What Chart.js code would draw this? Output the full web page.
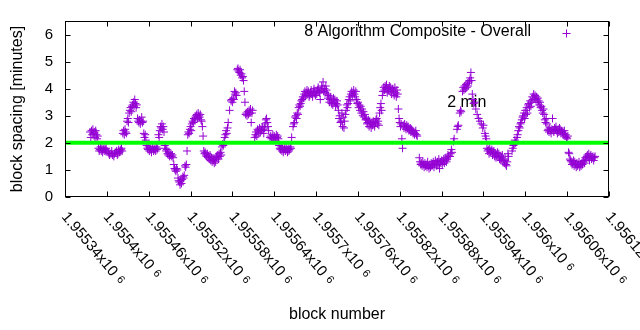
<!DOCTYPE html>
<html>
<head>
<meta charset="utf-8">
<script src="https://cdn.jsdelivr.net/npm/chart.js@4"></script>
<style>
  html, body { margin: 0; padding: 0; background: #fff; }
  canvas { display: block; }
</style>
</head>
<body>
<canvas id="chart" width="640" height="330"></canvas>
<script>
// Block heights of the sample
const blocks = [
  1955376, 1955377, 1955378, 1955379, 1955380, 1955381, 1955382, 1955383, 1955384, 1955385, 1955386, 1955387,
  1955388, 1955389, 1955390, 1955391, 1955392, 1955393, 1955394, 1955395, 1955396, 1955397,
  1955398, 1955399, 1955400, 1955402, 1955403, 1955404, 1955406, 1955407, 1955408, 1955410, 1955411, 1955412,
  1955414, 1955415, 1955416, 1955417, 1955418, 1955419, 1955420, 1955421, 1955422,
  1955423, 1955424, 1955425, 1955426, 1955427, 1955428, 1955429, 1955430, 1955431,
  1955432, 1955433, 1955434, 1955435, 1955436, 1955437, 1955438, 1955439, 1955440, 1955441, 1955442, 1955443,
  1955444, 1955445, 1955446, 1955447, 1955448, 1955449, 1955450, 1955451, 1955452,
  1955453, 1955454, 1955455, 1955456,
  1955457, 1955458, 1955459, 1955460, 1955461, 1955462, 1955463, 1955464, 1955465, 1955466, 1955467, 1955468,
  1955469, 1955470, 1955471, 1955472, 1955473,
  1955474, 1955475, 1955476, 1955477, 1955478, 1955479, 1955480, 1955481, 1955482,
  1955483, 1955484, 1955485, 1955486, 1955487, 1955488, 1955489, 1955490, 1955491,
  1955492, 1955493, 1955494, 1955495, 1955496, 1955497, 1955498, 1955499, 1955500, 1955501, 1955502, 1955503,
  1955504, 1955505, 1955506, 1955507, 1955508, 1955509, 1955510, 1955511, 1955512, 1955513, 1955514, 1955515,
  1955516, 1955517, 1955518, 1955519, 1955520, 1955521, 1955522, 1955523, 1955524, 1955525, 1955526, 1955527,
  1955528, 1955529, 1955530, 1955531, 1955532, 1955533, 1955534, 1955535, 1955536, 1955537, 1955538,
  1955539, 1955540, 1955541, 1955542, 1955543, 1955544, 1955545, 1955546, 1955547, 1955548, 1955549, 1955550,
  1955551, 1955552, 1955553, 1955554, 1955555, 1955556, 1955557, 1955558, 1955559, 1955560, 1955561, 1955562,
  1955563, 1955564,
  1955565, 1955566, 1955567, 1955568, 1955569, 1955570, 1955571, 1955572, 1955573, 1955574, 1955576, 1955578,
  1955579, 1955580, 1955581, 1955582, 1955583, 1955584, 1955585, 1955586, 1955587, 1955588, 1955589, 1955590,
  1955591, 1955592, 1955593, 1955594, 1955595, 1955596, 1955597, 1955598, 1955599, 1955600, 1955601, 1955602,
  1955603, 1955604, 1955605, 1955606, 1955607, 1955608, 1955609,
  1955612, 1955613, 1955614, 1955615, 1955616, 1955617, 1955618, 1955619, 1955620, 1955621, 1955622, 1955623,
  1955624, 1955625, 1955626, 1955627, 1955628, 1955629, 1955630, 1955631, 1955632,
  1955634, 1955635, 1955636, 1955637, 1955638, 1955639, 1955640, 1955641, 1955642, 1955643, 1955644, 1955645, 1955646,
  1955647, 1955648, 1955649, 1955650, 1955651, 1955652, 1955653, 1955654, 1955655, 1955656, 1955657, 1955658,
  1955659, 1955660, 1955661, 1955662, 1955663, 1955664, 1955665,
  1955667, 1955668, 1955669, 1955670, 1955671, 1955672, 1955673, 1955674, 1955675, 1955676, 1955677, 1955678,
  1955679, 1955680, 1955681, 1955682, 1955683, 1955684, 1955685, 1955686, 1955687, 1955688, 1955689, 1955690,
  1955691, 1955692, 1955693, 1955694, 1955695, 1955696, 1955697, 1955698, 1955699, 1955700, 1955701, 1955702,
  1955703, 1955704, 1955705, 1955706, 1955707, 1955708, 1955709, 1955710, 1955711, 1955712, 1955713, 1955714,
  1955715, 1955716,
  1955717, 1955718, 1955719, 1955720, 1955721, 1955722, 1955723, 1955724, 1955725, 1955726, 1955727, 1955728,
  1955729, 1955730, 1955731,
  1955732, 1955733, 1955734, 1955735, 1955736, 1955737, 1955738, 1955739, 1955740, 1955741,
  1955742, 1955743, 1955744, 1955745, 1955746, 1955747, 1955748, 1955749, 1955750, 1955751, 1955752, 1955753,
  1955754, 1955755, 1955756, 1955757,
  1955758, 1955759, 1955760, 1955761, 1955762, 1955763, 1955764, 1955765, 1955766, 1955767, 1955768, 1955769,
  1955770, 1955771,
  1955772, 1955773, 1955774, 1955775, 1955776, 1955777, 1955778, 1955779, 1955780, 1955781, 1955782, 1955783,
  1955784, 1955785, 1955786, 1955787, 1955788, 1955789, 1955790,
  1955791, 1955792, 1955793, 1955794,
  1955795, 1955796, 1955797, 1955798, 1955799, 1955800, 1955801, 1955802, 1955803, 1955804, 1955805, 1955806,
  1955807, 1955808, 1955809, 1955810, 1955811, 1955812, 1955813, 1955814, 1955815, 1955816, 1955817,
  1955818, 1955819,
  1955820, 1955821, 1955822, 1955823, 1955824, 1955825, 1955826, 1955827, 1955828, 1955829, 1955830, 1955831,
  1955832, 1955833, 1955834, 1955835, 1955836, 1955837, 1955838, 1955839, 1955840, 1955841, 1955842, 1955843,
  1955844, 1955845,
  1955848, 1955849, 1955850, 1955851, 1955852, 1955853, 1955854, 1955855, 1955856, 1955857, 1955858, 1955859,
  1955860, 1955861, 1955862, 1955863, 1955864, 1955865, 1955866, 1955867, 1955868, 1955869, 1955870, 1955871,
  1955872, 1955873, 1955874, 1955875, 1955876, 1955877, 1955878, 1955879, 1955880, 1955881, 1955882, 1955883,
  1955884, 1955885, 1955886, 1955887, 1955888, 1955889, 1955890,
  1955892, 1955893, 1955894, 1955895, 1955897, 1955898, 1955902, 1955903, 1955904, 1955906, 1955907, 1955908,
  1955910, 1955911, 1955912, 1955913, 1955914, 1955915, 1955916, 1955917, 1955918, 1955919, 1955920, 1955921,
  1955922, 1955923, 1955924, 1955925, 1955926, 1955927, 1955929, 1955931, 1955933, 1955935, 1955937, 1955939,
  1955940, 1955942, 1955943, 1955944,
  1955945, 1955946, 1955947, 1955948, 1955949, 1955950, 1955951, 1955952, 1955953, 1955954, 1955955, 1955956,
  1955957, 1955958, 1955959, 1955960, 1955961, 1955962, 1955963, 1955964, 1955965, 1955966, 1955967, 1955968,
  1955969, 1955970, 1955971, 1955972, 1955973, 1955974, 1955975, 1955976,
  1955981, 1955982, 1955983, 1955984, 1955985, 1955986, 1955987, 1955988, 1955989, 1955990, 1955991, 1955992,
  1955993, 1955994, 1955995, 1955996, 1955997, 1955998, 1955999, 1956000, 1956001, 1956002, 1956003, 1956004,
  1956005, 1956006, 1956007, 1956008, 1956009, 1956010, 1956011, 1956012, 1956013,
  1956014, 1956015, 1956016, 1956017, 1956018, 1956019, 1956020, 1956021, 1956022, 1956023, 1956024, 1956025,
  1956026, 1956027, 1956028, 1956029, 1956030, 1956031, 1956032, 1956033, 1956034, 1956035, 1956036, 1956037,
  1956038, 1956039, 1956040, 1956041, 1956042, 1956043, 1956044, 1956045, 1956046, 1956047, 1956048, 1956049,
  1956050, 1956051, 1956052, 1956053, 1956054, 1956055, 1956056, 1956057, 1956058, 1956059, 1956060, 1956061,
  1956062, 1956063, 1956064, 1956065, 1956066, 1956067, 1956068, 1956069, 1956070, 1956071, 1956072, 1956073,
  1956074, 1956075, 1956076, 1956077, 1956078, 1956079, 1956080, 1956081, 1956082, 1956083, 1956084, 1956085,
  1956086, 1956087, 1956088, 1956089, 1956090, 1956091, 1956092, 1956093, 1956094, 1956095, 1956096, 1956097,
  1956098, 1956099, 1956100
];

// Spacing before each block, in minutes
const spacing = [
  2.4, 2.2, 2.45, 2.3, 2.5, 2.35, 2.4, 2.2, 2.45, 2.3, 2.15, 2.25,
  1.8, 1.7, 1.75, 1.85, 1.7, 1.8, 1.65, 1.75, 1.8, 1.7,
  1.75, 1.8, 1.7, 1.65, 1.6, 1.55, 1.6, 1.7, 1.55, 1.5, 1.6, 1.65,
  1.7, 1.55, 1.6, 1.75, 1.65, 1.7, 1.75, 1.8, 1.7,
  2.35, 2.45, 2.3, 2.5, 2.4, 2.35, 2.8, 2.9, 2.75,
  3.1, 3.2, 3.3, 3.15, 3.35, 3.4, 3.5, 3.35, 3.6, 3.45, 3.3, 3.4,
  2.9, 2.8, 2.75, 2.85, 2.7, 2.8, 2.95, 2.75, 2.8,
  2.35, 2.2, 2.3, 2.1,
  1.9, 1.8, 1.75, 1.85, 1.7, 1.8, 1.75, 1.65, 1.8, 1.85, 1.7, 1.75,
  1.8, 1.7, 1.85, 1.75, 1.8,
  2.3, 2.2, 2.45, 2.6, 2.55, 2.7, 2.5, 2.6, 2.4,
  1.9, 1.8, 1.7, 1.75, 1.6, 1.55, 1.65, 1.5, 1.55,
  1.6, 1.5, 1.55, 1.45, 1.2, 1.05, 1.0, 0.95, 1.05, 1.0, 0.7, 0.6,
  0.55, 0.45, 0.6, 0.5, 0.65, 0.75, 0.7, 0.8, 1.15, 1.1, 1.2, 1.7,
  2.3, 2.4, 2.35, 2.5, 2.6, 2.45, 2.7, 2.8, 2.75, 2.9, 2.85, 2.95,
  3.0, 3.05, 2.9, 3.1, 3.0, 2.95, 3.05, 2.85, 2.8, 2.6, 2.25,
  1.7, 1.6, 1.65, 1.55, 1.5, 1.6, 1.45, 1.5, 1.4, 1.55, 1.35, 1.45,
  1.3, 1.4, 1.35, 1.25, 1.4, 1.3, 1.5, 1.45, 1.55, 1.4, 1.6, 1.5,
  1.65, 1.55,
  1.85, 1.95, 1.9, 2.05, 2.2, 2.3, 2.45, 2.35, 2.55, 2.75, 3.2, 3.55,
  3.6, 3.5, 3.65, 3.6, 3.9, 3.8, 3.85, 3.75, 4.7, 4.75, 4.65, 4.6,
  4.7, 4.5, 4.55, 4.4, 4.45, 4.3, 3.9, 3.5, 3.05, 3.1, 3.0, 3.15,
  3.05, 3.2, 3.1, 3.25, 2.75, 3.1, 3.2,
  2.2, 2.3, 2.4, 2.25, 2.5, 2.45, 2.35, 2.55, 2.4, 2.5, 2.45, 2.6,
  2.5, 2.35, 2.55, 2.7, 2.85, 2.9, 2.75, 2.6, 2.45,
  2.2, 2.25, 2.15, 2.2, 2.3, 2.15, 2.25, 2.2, 2.1, 2.3, 2.2, 2.25, 2.15,
  1.9, 1.8, 1.75, 1.85, 1.7, 1.8, 1.65, 1.75, 1.8, 1.7, 1.85, 1.75,
  1.65, 1.8, 1.7, 1.75, 1.85, 1.8, 2.2,
  2.6, 2.7, 2.75, 2.95, 3.0, 2.9, 3.1, 3.05, 3.3, 3.4, 3.35, 3.45,
  3.55, 3.6, 3.7, 3.65, 3.8, 3.9, 3.75, 3.85, 3.95, 3.8, 3.9, 3.7,
  3.75, 3.85, 3.95, 3.8, 3.7, 3.9, 4.0, 3.85, 3.75, 3.9, 3.8, 3.95,
  4.05, 3.9, 3.85, 3.6, 3.95, 4.1, 4.0, 4.25, 3.9, 4.0, 3.85, 4.1,
  3.95, 3.8,
  3.65, 3.75, 3.5, 3.6, 3.7, 3.45, 3.55, 3.4, 3.65, 3.5, 3.6, 3.35,
  3.45, 3.55, 3.4,
  3.2, 2.9, 3.0, 2.75, 2.8, 3.1, 2.6, 2.95, 2.55, 2.8,
  3.05, 3.2, 3.4, 3.3, 3.45, 3.6, 3.7, 3.55, 3.8, 3.9, 3.75, 3.85,
  3.95, 3.8, 3.7, 3.9,
  3.6, 3.45, 3.5, 3.3, 3.4, 3.2, 3.35, 3.1, 3.25, 3.0, 3.15, 2.95,
  3.05, 2.85,
  2.9, 2.7, 2.75, 2.85, 2.6, 2.8, 2.7, 2.55, 2.75, 2.65, 2.8, 2.7,
  2.6, 2.75, 2.85, 2.9, 2.7, 2.8, 2.65,
  3.1, 3.3, 3.45, 3.2,
  3.75, 3.9, 4.05, 3.95, 4.1, 4.0, 4.15, 3.85, 4.0, 3.95, 4.1, 3.9,
  4.05, 3.8, 3.95, 4.0, 3.9, 3.75, 4.05, 3.85, 3.7, 3.95, 3.8,
  3.25, 2.9,
  2.75, 2.6, 2.7, 2.15, 1.8, 2.65, 2.55, 2.7, 2.6, 2.5, 2.65, 2.55,
  2.6, 2.45, 2.5, 2.55, 2.4, 2.5, 2.45, 2.35, 2.4, 2.3, 2.35, 2.45,
  2.3, 2.25,
  1.45, 1.3, 1.2, 1.25, 1.15, 1.3, 1.2, 1.1, 1.25, 1.15, 1.2, 1.1,
  1.3, 1.15, 1.05, 1.2, 1.1, 1.25, 1.15, 1.2, 1.3, 1.1, 1.2, 1.35,
  1.25, 1.15, 1.3, 1.2, 1.4, 1.05, 1.3, 1.25, 1.35, 1.2, 1.3, 1.4,
  1.25, 1.35, 1.45, 1.3, 1.4, 1.55, 1.5,
  1.5, 1.6, 1.75, 1.65, 2.05, 2.15, 2.5, 2.6, 2.65, 3.1, 3.2, 3.15,
  3.9, 4.05, 3.95, 4.1, 4.0, 4.15, 4.05, 4.2, 4.1, 4.25, 4.3, 4.4,
  4.6, 4.3, 3.8, 3.6, 3.45, 3.5, 3.25, 3.05, 2.9, 2.8, 2.7, 2.55,
  2.65, 2.35, 2.25, 2.15,
  1.8, 1.7, 1.75, 1.6, 1.8, 1.65, 1.7, 1.75, 1.55, 1.65, 1.7, 1.5,
  1.6, 1.45, 1.55, 1.65, 1.5, 1.6, 1.4, 1.5, 1.35, 1.45, 1.55, 1.3,
  1.4, 1.25, 1.35, 1.2, 1.15, 1.3, 1.6, 1.5,
  1.7, 1.8, 1.9, 1.95, 2.1, 2.0, 2.05, 2.2, 2.3, 2.45, 2.6, 2.55,
  2.7, 2.75, 2.85, 2.95, 3.0, 3.1, 2.9, 3.2, 3.05, 3.3, 3.1, 3.4,
  3.45, 3.3, 3.55, 3.35, 3.5, 3.7, 3.6, 3.8, 3.65,
  3.75, 3.6, 3.7, 3.5, 3.65, 3.55, 3.4, 3.5, 3.3, 3.35, 3.2, 3.1,
  3.25, 3.05, 2.85, 2.75, 2.9, 2.7, 2.45, 2.5, 2.4, 2.55, 2.45, 2.35,
  2.5, 2.9, 2.45, 2.4, 2.55, 2.5, 2.6, 2.45, 2.35, 2.5, 2.4, 2.55,
  2.5, 2.35, 2.45, 2.4, 2.3, 2.35, 2.45, 2.25, 2.3, 2.2, 2.15, 2.25,
  1.65, 1.6, 1.4, 1.35, 1.3, 1.2, 1.25, 1.35, 1.15, 1.3, 1.2, 1.1,
  1.25, 1.15, 1.2, 1.3, 1.1, 1.2, 1.15, 1.25, 1.2, 1.3, 1.35, 1.25,
  1.45, 1.4, 1.5, 1.55, 1.45, 1.6, 1.35, 1.5, 1.55, 1.4, 1.45, 1.5,
  1.35, 1.45, 1.5
];

const seriesName = '8 Algorithm Composite - Overall';
const refLevel = 2;              // minutes
const refLabel = '2 min';
const refLabelAt = { x: 1955888, y: 3.5 };
const blockRange = [1955340, 1956120];
const blockStep = 60;
const spacingRange = [0, 6.5];
const spacingTicks = [0, 1, 2, 3, 4, 5, 6];

const FONT = "'Liberation Sans', Arial, sans-serif";
const PURPLE = '#9400d3';
const GREEN = '#00ff00';

function tickMantissa(v) {
  return String(+(v / 1e6).toFixed(5)) + 'x10';
}

function drawCross(ctx, x, y, r) {
  ctx.beginPath();
  ctx.moveTo(x - r, y); ctx.lineTo(x + r, y);
  ctx.moveTo(x, y - r); ctx.lineTo(x, y + r);
  ctx.stroke();
}

const decor = {
  id: 'decor',
  beforeDatasetsDraw(chart) {
    const { ctx, scales: { x, y } } = chart;
    ctx.save();
    ctx.font = '16px ' + FONT;
    ctx.fillStyle = '#000';
    ctx.textAlign = 'left';
    ctx.textBaseline = 'middle';
    ctx.fillText(refLabel, x.getPixelForValue(refLabelAt.x), y.getPixelForValue(refLabelAt.y));
    ctx.restore();
  },
  afterDraw(chart) {
    const { ctx, chartArea: a, scales: { x, y } } = chart;
    const L = Math.round(a.left) + 0.5, R = Math.round(a.right) - 0.5;
    const T = Math.round(a.top) + 0.5, B = Math.round(a.bottom) - 0.5;
    const tl = 5;
    ctx.save();
    ctx.strokeStyle = '#000';
    ctx.lineWidth = 1;
    ctx.strokeRect(L, T, R - L, B - T);

    // inward tick marks, mirrored on the opposite side
    ctx.beginPath();
    x.ticks.forEach(t => {
      const px = Math.round(x.getPixelForValue(t.value)) + 0.5;
      ctx.moveTo(px, B); ctx.lineTo(px, B - tl);
      ctx.moveTo(px, T); ctx.lineTo(px, T + tl);
    });
    y.ticks.forEach(t => {
      const py = Math.round(y.getPixelForValue(t.value)) + 0.5;
      ctx.moveTo(L, py); ctx.lineTo(L + tl, py);
      ctx.moveTo(R, py); ctx.lineTo(R - tl, py);
    });
    ctx.stroke();

    // rotated block-number labels with a superscript exponent
    ctx.fillStyle = '#000';
    ctx.textAlign = 'left';
    ctx.textBaseline = 'alphabetic';
    x.ticks.forEach(t => {
      const px = x.getPixelForValue(t.value);
      ctx.save();
      ctx.translate(px - 4, a.bottom + 20);
      ctx.rotate(50 * Math.PI / 180);
      ctx.font = '15px ' + FONT;
      const txt = tickMantissa(t.value);
      ctx.fillText(txt, 0, 0);
      const w = ctx.measureText(txt).width;
      ctx.font = '11px ' + FONT;
      ctx.fillText('6', w + 5, -2);
      ctx.restore();
    });

    // key
    ctx.font = '16px ' + FONT;
    ctx.textAlign = 'right';
    ctx.textBaseline = 'middle';
    ctx.fillText(seriesName, 531, 32);
    ctx.strokeStyle = PURPLE;
    drawCross(ctx, 566.5, 33.5, 4);
    ctx.restore();
  }
};

new Chart(document.getElementById('chart'), {
  type: 'scatter',
  data: {
    datasets: [
      {
        label: refLabel,
        type: 'line',
        data: blockRange.map(b => ({ x: b, y: refLevel })),
        borderColor: GREEN,
        borderWidth: 4,
        pointRadius: 0,
        order: 0
      },
      {
        label: seriesName,
        data: blocks.map((b, i) => ({ x: b, y: spacing[i] })),
        pointStyle: 'cross',
        pointRadius: 4,
        borderColor: PURPLE,
        backgroundColor: PURPLE,
        borderWidth: 1,
        order: 1
      }
    ]
  },
  options: {
    responsive: false,
    animation: false,
    devicePixelRatio: 1,
    layout: { padding: { top: 19, right: 31, left: 0, bottom: 0 } },
    plugins: { legend: { display: false }, tooltip: { enabled: false } },
    scales: {
      x: {
        type: 'linear',
        min: blockRange[0],
        max: blockRange[1],
        ticks: { display: false, stepSize: blockStep },
        grid: { display: false, drawTicks: false },
        border: { display: false },
        title: {
          display: true, text: 'block number', color: '#000',
          font: { family: FONT, size: 16 }, padding: { top: 0, bottom: 6 }
        },
        afterFit(s) { s.height = 133; }
      },
      y: {
        min: spacingRange[0],
        max: spacingRange[1],
        ticks: { padding: 12, color: '#000', font: { family: FONT, size: 15 } },
        grid: { display: false, drawTicks: false },
        border: { display: false },
        title: {
          display: true, text: 'block spacing [minutes]', color: '#000',
          font: { family: FONT, size: 16 }, padding: { top: 8, bottom: 0 }
        },
        afterBuildTicks(s) { s.ticks = spacingTicks.map(v => ({ value: v })); },
        afterFit(s) { s.width = 65; }
      }
    }
  },
  plugins: [decor]
});
</script>
</body>
</html>
